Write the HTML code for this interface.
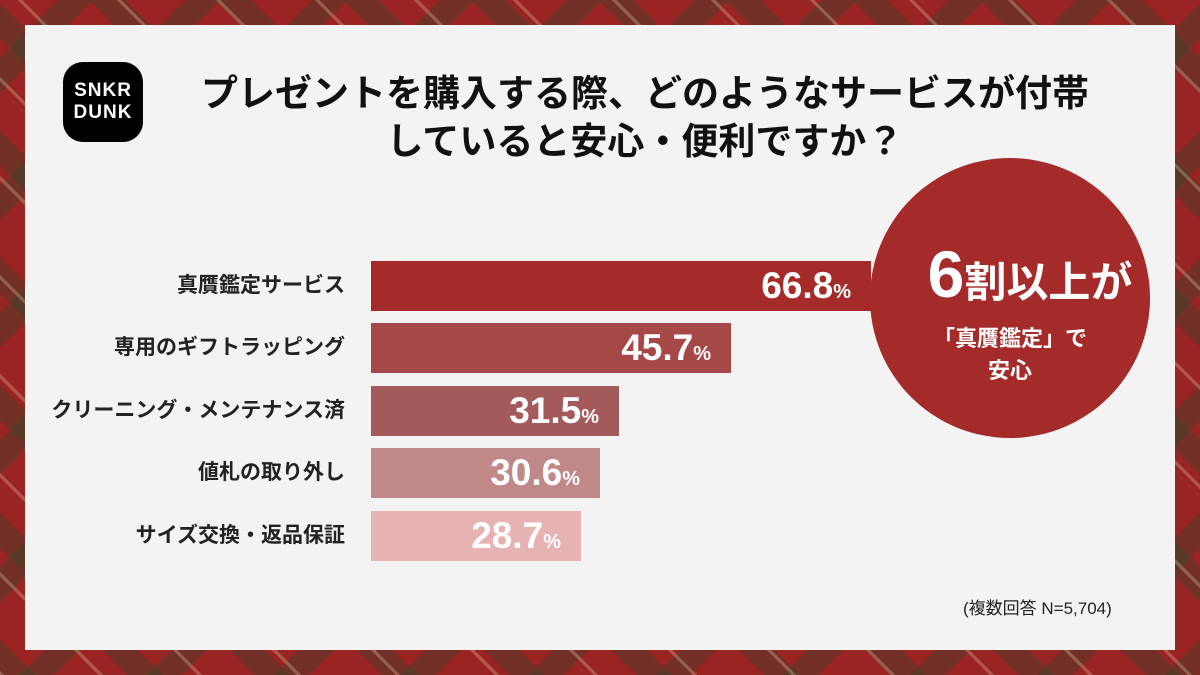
<!DOCTYPE html>
<html><head><meta charset="utf-8"><style>
body{margin:0;width:1200px;height:675px;overflow:hidden;position:relative;font-family:"Liberation Sans","Noto Sans CJK JP",sans-serif;
background:
repeating-linear-gradient(45deg,rgba(230,210,170,.3) 0 3px,transparent 3px 10px,transparent 10px 70px),
repeating-linear-gradient(-45deg,rgba(40,70,40,.35) 0 25px,transparent 25px 90px),
repeating-linear-gradient(45deg,rgba(40,70,40,.35) 0 25px,transparent 25px 90px),
#9a2424;}
.card{position:absolute;left:25px;top:25px;width:1150px;height:625px;background:#f3f3f3;}
.logo{position:absolute;left:63px;top:62px;width:80px;height:80px;background:#000;border-radius:20px;color:#fff;font-weight:bold;font-size:19px;line-height:22px;text-align:center;padding-top:18px;box-sizing:border-box;letter-spacing:1px}
.title{position:absolute;left:150px;width:990px;top:70px;text-align:center;font-size:37px;font-weight:bold;line-height:48px;color:#111}
.lab{position:absolute;right:855px;font-size:21px;font-weight:bold;color:#222;height:50px;line-height:50px;white-space:nowrap}
.bar{position:absolute;left:371px;height:50px;color:#fff;font-weight:bold;font-size:37px;line-height:50px;text-align:right;box-sizing:border-box;padding-right:20px}
.bar small{font-size:20px}
.circ{position:absolute;left:870px;top:158px;width:280px;height:280px;border-radius:50%;background:#a52a2a;color:#fff;text-align:center;font-weight:bold}
.note{position:absolute;left:963px;top:594px;font-size:17px;color:#222}
</style></head><body>
<div class="card"></div>
<div class="logo">SNKR<br>DUNK</div>
<div class="title">プレゼントを購入する際、どのようなサービスが付帯<br>していると安心・便利ですか？</div>
<div class="lab" style="top:261px">真贋鑑定サービス</div>
<div class="lab" style="top:323px">専用のギフトラッピング</div>
<div class="lab" style="top:386px">クリーニング・メンテナンス済</div>
<div class="lab" style="top:448px">値札の取り外し</div>
<div class="lab" style="top:511px">サイズ交換・返品保証</div>
<div class="bar" style="top:261px;width:500px;background:#a52b2b">66.8<small>%</small></div>
<div class="bar" style="top:323px;width:360px;background:#a54847">45.7<small>%</small></div>
<div class="bar" style="top:386px;width:248px;background:#a45a5a">31.5<small>%</small></div>
<div class="bar" style="top:448px;width:229px;background:#c08887">30.6<small>%</small></div>
<div class="bar" style="top:511px;width:210px;background:#e6b3b2">28.7<small>%</small></div>
<div class="circ">
<div style="position:absolute;top:84px;left:20px;width:100%;font-size:42px;line-height:64px"><span style="font-size:66px">6</span>割以上が</div>
<div style="position:absolute;top:165px;width:100%;font-size:22px;line-height:32px">「真贋鑑定」で<br>安心</div>
</div>
<div class="note">(複数回答 N=5,704)</div>
</body></html>
